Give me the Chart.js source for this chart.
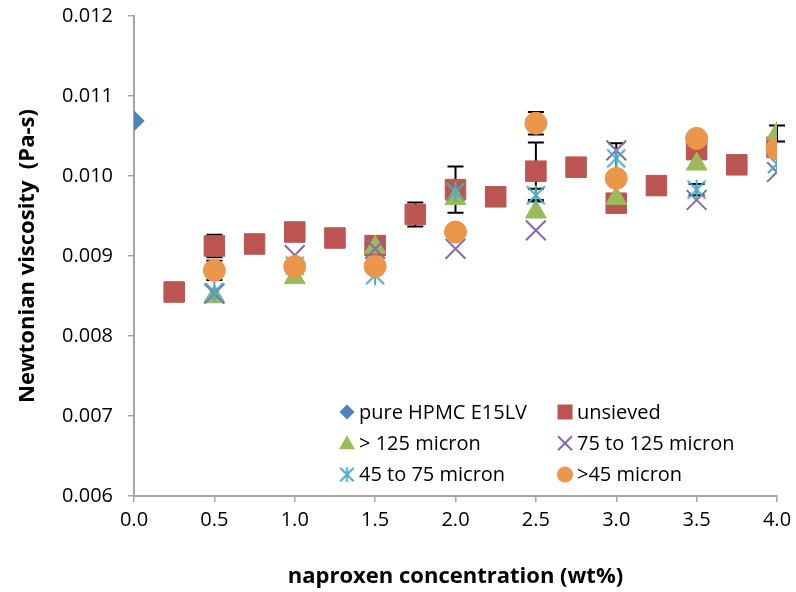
<!DOCTYPE html>
<html>
<head>
<meta charset="utf-8">
<title>Newtonian viscosity vs naproxen concentration</title>
<script src="https://cdn.jsdelivr.net/npm/chart.js@4.4.1/dist/chart.umd.min.js"></script>
<style>
  html, body { margin: 0; padding: 0; background: #ffffff; }
  #wrap { width: 796px; height: 592px; }
</style>
</head>
<body>
<div id="wrap"><canvas id="viscosityChart" width="796" height="592"></canvas></div>
<script>
// Concentrações de naproxeno (wt%)
const concPure = [0.0];
const concUnsieved = [0.25, 0.5, 0.75, 1.0, 1.25, 1.5, 1.75, 2.0, 2.25, 2.5, 2.75, 3.0, 3.25, 3.5, 3.75, 4.0];
const concSieved = [0.5, 1.0, 1.5, 2.0, 2.5, 3.0, 3.5, 4.0];

// Viscosidade newtoniana (Pa-s)
const viscPure = [0.01069];
const viscUnsieved = [0.00855, 0.009125, 0.00915, 0.0093, 0.009225, 0.00913, 0.00952, 0.00983,
                      0.00974, 0.01006, 0.01011, 0.00966, 0.00988, 0.01033, 0.01014, 0.01036];
const viscOver125 = [0.00849, 0.00873, 0.00911, 0.00972, 0.00955, 0.00972, 0.01015, 0.01053];
const visc75to125 = [0.00853, 0.00901, 0.00909, 0.00909, 0.00932, 0.01032, 0.0097, 0.01005];
const visc45to75 = [0.00855, 0.00888, 0.00876, 0.0098, 0.00976, 0.01022, 0.00983, 0.01015];
const viscUnder45 = [0.00882, 0.00887, 0.00887, 0.0093, 0.01066, 0.00997, 0.01047, 0.01034];

// Barras de erro (desvio, Pa-s) - null onde não aparece
const errUnsieved = [null, 0.00014, null, null, null, null, 0.00015, 0.00029,
                     null, 0.00036, null, null, null, null, null, null];
const errOver125 = [null, null, null, null, null, null, null, 0.0001];
const err45to75 = [null, null, null, null, 0.00008, 0.00019, 0.00007, null];
const errUnder45 = [0.00012, null, null, null, 0.00014, null, null, null];

// Rótulos dos eixos
const xTicks = [0, 0.5, 1.0, 1.5, 2.0, 2.5, 3.0, 3.5, 4.0];
const yTicks = [0.006, 0.007, 0.008, 0.009, 0.010, 0.011, 0.012];

const colors = {
    blue: '#4f81bd',
    red: '#bc5551',
    green: '#9bbb59',
    purple: '#8569a8',
    aqua: '#4bacc6',
    orange: '#ea964b',
    axis: '#a6a6a6'
};

const fontFamily = "'Open Sans', 'Liberation Sans', sans-serif";

function toPoints(xs, ys) {
    return xs.map((x, i) => ({ x: x, y: ys[i] }));
}

// Marcador asterisco do Excel (X + linha vertical)
function makeAsterisk(half, lineWidth) {
    const c = document.createElement('canvas');
    const size = Math.ceil(half * 2 + lineWidth * 2);
    c.width = size;
    c.height = size;
    const g = c.getContext('2d');
    const m = size / 2;
    const d = half * 0.9;
    g.strokeStyle = colors.aqua;
    g.lineWidth = lineWidth;
    g.beginPath();
    g.moveTo(m - d, m - d); g.lineTo(m + d, m + d);
    g.moveTo(m + d, m - d); g.lineTo(m - d, m + d);
    g.moveTo(m, m - half); g.lineTo(m, m + half);
    g.stroke();
    return c;
}

const asteriskPlot = makeAsterisk(10, 2);
const asteriskLegend = makeAsterisk(7.5, 2);

/**
 * Desenha as barras de erro antes dos marcadores
 */
const errorBarPlugin = {
    id: 'errorBars',
    beforeDatasetsDraw(chart) {
        const ctx = chart.ctx;
        const xs = chart.scales.x;
        const ys = chart.scales.y;
        ctx.save();
        ctx.strokeStyle = '#000000';
        ctx.lineWidth = 2;
        chart.data.datasets.forEach(ds => {
            if (!ds.errorBars) return;
            ds.data.forEach((p, i) => {
                const e = ds.errorBars[i];
                if (e == null) return;
                const px = xs.getPixelForValue(p.x);
                const top = ys.getPixelForValue(p.y + e);
                const bottom = ys.getPixelForValue(p.y - e);
                ctx.beginPath();
                ctx.moveTo(px, top); ctx.lineTo(px, bottom);
                ctx.moveTo(px - 8, top); ctx.lineTo(px + 8, top);
                ctx.moveTo(px - 8, bottom); ctx.lineTo(px + 8, bottom);
                ctx.stroke();
            });
        });
        ctx.restore();
    }
};

/**
 * Marcadores da legenda (versão reduzida)
 */
function drawLegendMarker(ctx, kind, color, x, y) {
    ctx.save();
    ctx.fillStyle = color;
    ctx.strokeStyle = color;
    ctx.lineWidth = 2;
    ctx.beginPath();
    if (kind === 'diamond') {
        ctx.moveTo(x - 7.5, y); ctx.lineTo(x, y - 7.5); ctx.lineTo(x + 7.5, y); ctx.lineTo(x, y + 7.5);
        ctx.closePath(); ctx.fill();
    } else if (kind === 'square') {
        ctx.rect(x - 7.5, y - 7.5, 15, 15); ctx.fill();
    } else if (kind === 'triangle') {
        ctx.moveTo(x, y - 8); ctx.lineTo(x + 8, y + 6); ctx.lineTo(x - 8, y + 6);
        ctx.closePath(); ctx.fill();
    } else if (kind === 'cross') {
        ctx.moveTo(x - 7, y - 7); ctx.lineTo(x + 7, y + 7);
        ctx.moveTo(x + 7, y - 7); ctx.lineTo(x - 7, y + 7);
        ctx.stroke();
    } else if (kind === 'asterisk') {
        ctx.drawImage(asteriskLegend, x - asteriskLegend.width / 2, y - asteriskLegend.height / 2);
    } else {
        ctx.arc(x, y, 8, 0, Math.PI * 2); ctx.fill();
    }
    ctx.restore();
}

/**
 * Legenda em duas colunas dentro da área do gráfico
 */
const insideLegendPlugin = {
    id: 'insideLegend',
    afterDraw(chart) {
        const ctx = chart.ctx;
        const area = chart.chartArea;
        const colX = [area.left + 213, area.left + 431];
        const rowY0 = area.top + 396;
        const rowGap = 31.3;
        ctx.save();
        ctx.font = '20px ' + fontFamily;
        ctx.fillStyle = '#000000';
        ctx.textBaseline = 'middle';
        ctx.textAlign = 'left';
        chart.data.datasets.forEach((ds, i) => {
            const x = colX[i % 2];
            const y = rowY0 + Math.floor(i / 2) * rowGap;
            drawLegendMarker(ctx, ds.legendMarker, ds.legendColor, x, y);
            ctx.fillStyle = '#000000';
            ctx.fillText(ds.label, x + 12, y + 1);
        });
        ctx.restore();
    }
};

document.addEventListener('DOMContentLoaded', function() {
    const ctx = document.getElementById('viscosityChart');

    const datasets = [
        {
            label: 'pure HPMC E15LV',
            data: toPoints(concPure, viscPure),
            pointStyle: 'rectRot', pointRadius: 10,
            backgroundColor: colors.blue, borderColor: colors.blue, pointBorderWidth: 1,
            legendMarker: 'diamond', legendColor: colors.blue, order: 5
        },
        {
            label: 'unsieved',
            data: toPoints(concUnsieved, viscUnsieved),
            errorBars: errUnsieved,
            pointStyle: 'rect', pointRadius: 14.5,
            backgroundColor: colors.red, borderColor: colors.red, pointBorderWidth: 1,
            legendMarker: 'square', legendColor: colors.red, order: 4
        },
        {
            label: '> 125 micron',
            data: toPoints(concSieved, viscOver125),
            errorBars: errOver125,
            pointStyle: 'triangle', pointRadius: 12,
            backgroundColor: colors.green, borderColor: colors.green, pointBorderWidth: 1,
            legendMarker: 'triangle', legendColor: colors.green, order: 3
        },
        {
            label: '75 to 125 micron',
            data: toPoints(concSieved, visc75to125),
            pointStyle: 'crossRot', pointRadius: 14,
            backgroundColor: colors.purple, borderColor: colors.purple, pointBorderWidth: 2,
            legendMarker: 'cross', legendColor: colors.purple, order: 2
        },
        {
            label: '45 to 75 micron',
            data: toPoints(concSieved, visc45to75),
            errorBars: err45to75,
            pointStyle: asteriskPlot, pointRadius: 10,
            backgroundColor: colors.aqua, borderColor: colors.aqua,
            legendMarker: 'asterisk', legendColor: colors.aqua, order: 1
        },
        {
            label: '>45 micron',
            data: toPoints(concSieved, viscUnder45),
            errorBars: errUnder45,
            pointStyle: 'circle', pointRadius: 11,
            backgroundColor: colors.orange, borderColor: colors.orange, pointBorderWidth: 1,
            legendMarker: 'circle', legendColor: colors.orange, order: 0
        }
    ];

    datasets.forEach(ds => {
        ds.showLine = false;
        ds.pointHoverRadius = ds.pointRadius;
    });

    new Chart(ctx, {
        type: 'scatter',
        data: { datasets: datasets },
        options: {
            responsive: false,
            animation: false,
            devicePixelRatio: 1,
            layout: { padding: { top: 16, right: 19, left: 0, bottom: 0 } },
            plugins: {
                legend: { display: false },
                tooltip: { enabled: false }
            },
            scales: {
                x: {
                    type: 'linear',
                    min: xTicks[0],
                    max: xTicks[xTicks.length - 1],
                    afterBuildTicks: s => { s.ticks = xTicks.map(v => ({ value: v })); },
                    afterFit: s => { s.height = 96; s.paddingLeft = 0; s.paddingRight = 0; },
                    ticks: {
                        callback: v => Number(v).toFixed(1),
                        font: { family: fontFamily, size: 20 },
                        color: '#000000',
                        padding: 6,
                        maxRotation: 0
                    },
                    grid: {
                        drawOnChartArea: false,
                        drawTicks: true,
                        tickLength: 6,
                        color: colors.axis,
                        lineWidth: 1.5
                    },
                    border: { color: colors.axis, width: 2 },
                    title: {
                        display: true,
                        text: 'naproxen concentration (wt%)',
                        font: { family: fontFamily, size: 22, weight: 'bold' },
                        color: '#000000',
                        padding: { top: 0, bottom: 2 }
                    }
                },
                y: {
                    type: 'linear',
                    min: yTicks[0],
                    max: yTicks[yTicks.length - 1],
                    afterBuildTicks: s => { s.ticks = yTicks.map(v => ({ value: v })); },
                    afterFit: s => { s.width = 134; s.paddingTop = 0; s.paddingBottom = 0; },
                    ticks: {
                        callback: v => Number(v).toFixed(3),
                        font: { family: fontFamily, size: 20 },
                        color: '#000000',
                        padding: 15
                    },
                    grid: {
                        drawOnChartArea: false,
                        drawTicks: true,
                        tickLength: 6,
                        color: colors.axis,
                        lineWidth: 1.5
                    },
                    border: { color: colors.axis, width: 2 },
                    title: {
                        display: true,
                        text: 'Newtonian viscosity  (Pa-s)',
                        font: { family: fontFamily, size: 22, weight: 'bold' },
                        color: '#000000',
                        padding: { top: 15, bottom: 0 }
                    }
                }
            }
        },
        plugins: [errorBarPlugin, insideLegendPlugin]
    });
});
</script>
</body>
</html>
